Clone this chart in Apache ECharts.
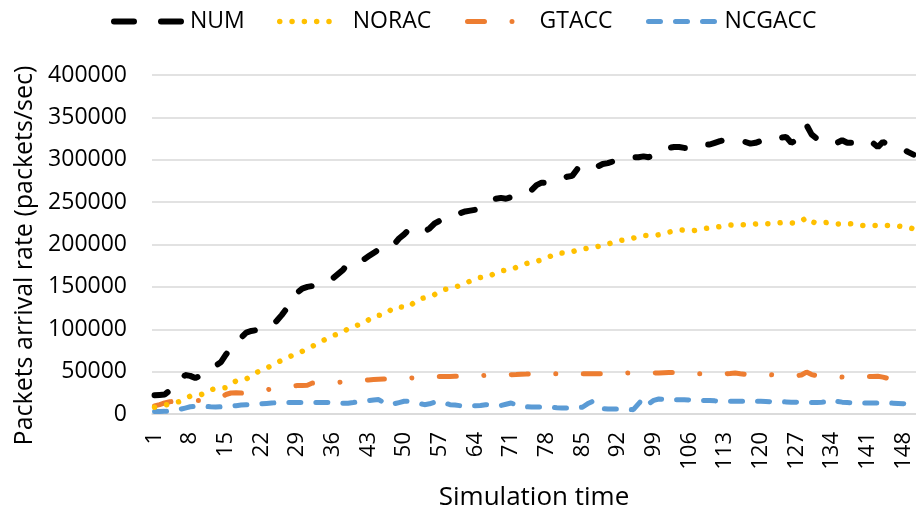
<!DOCTYPE html>
<html><head><meta charset="utf-8">
<script src="https://cdn.jsdelivr.net/npm/echarts@6/dist/echarts.min.js"></script>
<style>html,body{margin:0;padding:0;background:#fff}#c{width:916px;height:510px}</style>
</head><body><div id="c"></div>
<script>
// Categories: simulation time steps 1..150
const categories = [];
for (let i = 1; i <= 150; i++) categories.push(String(i));

const seriesNames = ['NUM', 'NORAC', 'GTACC', 'NCGACC'];

const numValues = [
22000,22500,23000,28000,35000,38000,46000,45000,42500,45000,
49000,52000,57000,61000,70000,78000,82000,90000,96000,98000,
99000,100000,101000,104000,110000,117000,125000,137000,143000,148000,
150000,151000,152000,154000,156000,160000,165000,170000,178000,181000,
181000,182000,186000,190000,194000,195000,194000,200000,207000,212000,
218000,219000,216000,215000,219000,225000,228000,231000,233000,234000,
237000,239000,240000,241000,244000,248000,250000,254000,255000,254000,
256000,258000,260000,262000,264000,270000,273000,273000,274000,275000,
278000,280000,281000,289000,285000,288000,290000,292000,295000,296000,
298000,299000,300000,302000,303000,303000,304000,303000,305000,309000,
313000,314000,315000,315000,314000,314000,317000,318000,318000,318000,
320000,322000,323000,323000,323000,322000,321000,319000,320000,322000,
324000,325000,324000,326000,327000,320000,323000,330000,341000,330000,
325000,324000,323000,324000,320000,323000,320000,320000,319000,318000,
317000,320000,315000,321000,318000,316000,314000,312000,309000,306000
];

const noracValues = [
8000,9000,10500,11500,13000,15000,18000,21000,22000,22500,
25000,28500,30000,30500,31000,35000,39000,40500,41500,45000,
49000,51500,54000,57500,60500,63500,66000,69000,72000,74000,
77000,80000,83000,86500,89500,92500,94500,96000,101000,103500,
105000,106500,111000,115500,116500,117000,121000,126000,126500,126000,
126500,132000,136000,137000,138000,141000,145000,147000,148000,149500,
152000,154000,157000,160000,161000,161500,163500,167000,169000,169500,
170000,173000,176000,177500,179000,180000,182000,184000,187000,189500,
190000,189800,191500,193500,195000,195500,195700,197500,199500,200500,
202500,204500,205200,205800,207500,209500,210600,210600,210600,211500,
213000,214600,215800,217000,217200,216800,216500,217500,218800,219500,
220300,221100,222000,223000,223200,223200,223200,223500,224200,224400,
224400,224400,225000,225700,225900,225500,225200,227500,231800,227000,
225200,225500,225900,225200,224300,224000,224300,224400,223500,222500,
222400,222400,222400,222400,222400,222000,221700,221200,220000,218500
];

const gtaccValues = [
9500,11000,13000,14500,15000,15500,16000,16000,16000,16000,
16500,17000,18000,19000,23000,24800,25000,24800,25000,26000,
27000,28000,28600,29500,30500,31500,32500,33000,33500,33500,
34000,36500,36800,37000,37000,37200,37300,38000,38500,39000,
39300,39600,40200,40600,41000,41300,41300,41700,42000,42200,
42400,42700,43200,43600,44000,44300,44300,44300,44300,44400,
44500,44800,45000,45200,45400,45500,45700,45900,46000,46200,
46300,46500,46800,47100,47500,47500,47500,47500,47500,47500,
47500,47500,47500,47500,47600,47500,47600,47500,47500,47800,
48000,48100,48200,48300,48300,48300,48300,48300,48300,48500,
48800,49000,49000,48700,48300,48000,47700,47500,47500,47500,
47500,47500,47500,47800,48300,47500,46800,46300,46300,46300,
46300,46300,46000,45800,45500,45200,45100,46000,49500,46500,
45100,44800,44500,44200,43900,43600,43600,43800,44000,44200,
44300,44300,44500,43500,42000,41300,41000,40800,40600,40400
];

const ncgaccValues = [
3000,3000,3100,3500,4500,5500,7000,8500,9000,9200,
9000,8500,8200,8500,8800,9200,9800,10500,11000,11300,
11500,12000,12500,13000,13300,13500,13700,13700,13700,13700,
13700,13700,13700,13700,13500,13300,13000,12800,12700,13500,
14500,15000,15800,16500,17000,13500,11000,12000,13500,15000,
14900,14000,12500,11000,12000,14000,15000,13000,11000,10500,
9800,9800,9800,9800,10000,11000,10500,9500,10000,11500,
13000,10500,8800,8500,8300,8300,8300,8200,8000,7500,
7100,7100,7100,7200,8000,12000,14900,9000,6500,5900,
5900,5900,5800,5500,5100,12000,18500,12000,16000,17700,
17000,16900,16900,16900,16800,16500,16200,16000,16000,16000,
15500,15200,14900,14900,14900,14900,14900,14900,14900,14900,
14700,14500,14500,14500,14300,14000,13800,13700,13700,13700,
13700,14000,14500,16900,15000,14000,13500,13000,13000,13000,
13000,13000,13000,13000,13000,12800,12500,12200,12100,12000
];

const yTicks = { min: 0, max: 400000, interval: 50000 };

const FONT = '"Open Sans", "Noto Sans", sans-serif';
const colors = ['#000000', '#FFC000', '#ED7D31', '#5B9BD5'];
const styles = [
  { width: 6, type: [14, 24], cap: 'round' },
  { width: 5.5, type: [0.01, 12.3], cap: 'round' },
  { width: 5, type: [17, 27.5, 0.01, 27.5], cap: 'round' },
  { width: 5, type: [12, 15], cap: 'round' }
];
const legendDash = [[20, 27], styles[1].type, styles[2].type, styles[3].type];
const allValues = [numValues, noracValues, gtaccValues, ncgaccValues];

const legendPos = [
  { left: 111, w: 71, pad: 0 },
  { left: 277, w: 61, pad: 7 },
  { left: 465, w: 52, pad: 15 },
  { left: 646, w: 71, pad: 0 }
];

const chart = echarts.init(document.getElementById('c'), null, { renderer: 'canvas' });
chart.setOption({
  animation: false,
  backgroundColor: '#ffffff',
  color: colors,
  legend: seriesNames.map((n, i) => ({
    data: [n],
    left: legendPos[i].left,
    top: 10,
    padding: 0,
    itemWidth: legendPos[i].w,
    itemHeight: 14,
    itemStyle: { opacity: 0 },
    lineStyle: { width: styles[i].width, type: legendDash[i], cap: 'round', color: colors[i] },
    textStyle: { fontFamily: FONT, fontSize: 23, color: '#000', padding: [0, 0, 0, legendPos[i].pad] }
  })),
  grid: { left: 152, right: 0, top: 75, bottom: 96, containLabel: false, outerBoundsMode: 'none' },
  xAxis: {
    type: 'category',
    data: categories,
    boundaryGap: true,
    name: 'Simulation time',
    nameLocation: 'middle',
    nameGap: 71,
    nameTextStyle: { fontFamily: FONT, fontSize: 26, color: '#000' },
    axisLine: { lineStyle: { color: '#d9d9d9', width: 1.5 } },
    axisTick: { show: false },
    axisLabel: { interval: 6, rotate: 90, margin: 18, fontFamily: FONT, fontSize: 22, color: '#000' }
  },
  yAxis: {
    type: 'value',
    min: yTicks.min, max: yTicks.max, interval: yTicks.interval,
    name: 'Packets arrival rate (packets/sec)',
    nameLocation: 'middle',
    nameGap: 114,
    nameTextStyle: { fontFamily: FONT, fontSize: 25, color: '#000', padding: [0, 22, 0, 0] },
    axisLine: { show: false },
    axisTick: { show: false },
    splitLine: { lineStyle: { color: '#d9d9d9', width: 1.5 } },
    axisLabel: { margin: 25, fontFamily: FONT, fontSize: 23, color: '#000', formatter: v => String(v) }
  },
  series: seriesNames.map((n, i) => ({
    name: n,
    type: 'line',
    data: allValues[i],
    symbol: 'none',
    showSymbol: false,
    smooth: false,
    lineStyle: Object.assign({ color: colors[i] }, styles[i]),
    z: 10 - i
  }))
});
</script>
</body></html>
